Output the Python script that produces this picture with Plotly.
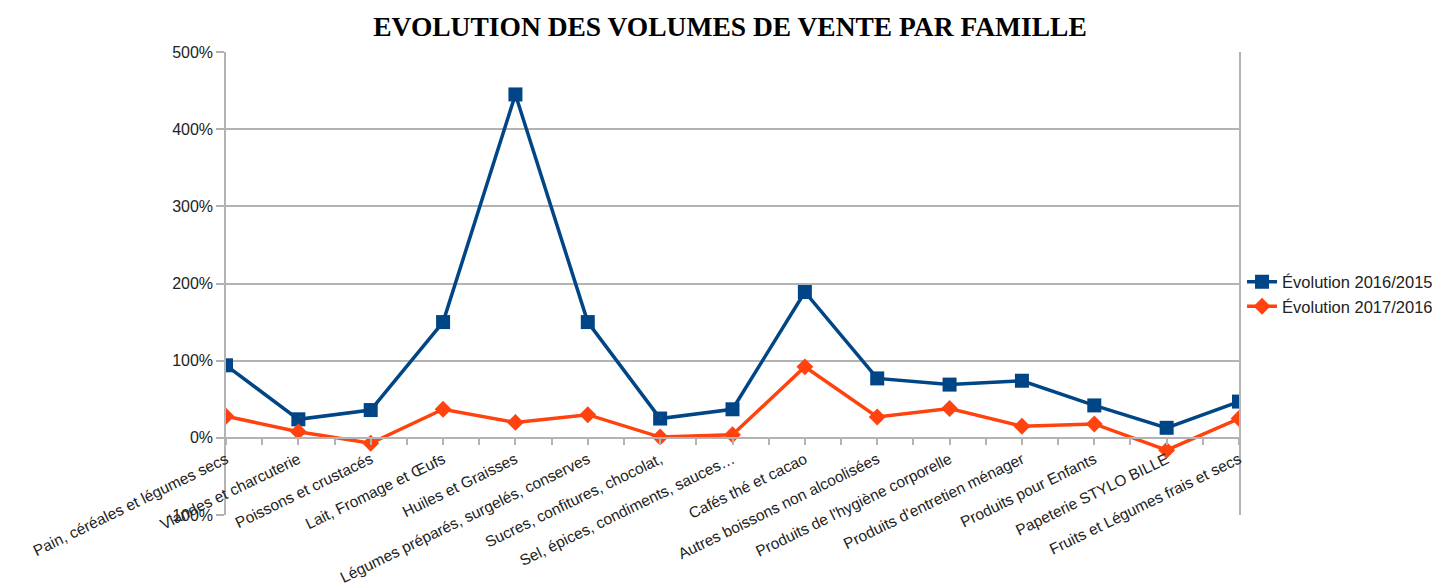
import plotly.graph_objects as go

categories = [
    "Pain, céréales et légumes secs",
    "Viandes et charcuterie",
    "Poissons et crustacés",
    "Lait, Fromage et Œufs",
    "Huiles et Graisses",
    "Légumes préparés, surgelés, conserves",
    "Sucres, confitures, chocolat,",
    "Sel, épices, condiments, sauces…",
    "Cafés thé et cacao",
    "Autres boissons non alcoolisées",
    "Produits de l'hygiène corporelle",
    "Produits d'entretien ménager",
    "Produits pour Enfants",
    "Papeterie STYLO BILLE",
    "Fruits et Légumes frais et secs",
]
evol_2016_2015 = [94, 24, 36, 150, 445, 150, 25, 37, 189, 77, 69, 74, 42, 13, 47]
evol_2017_2016 = [28, 8, -7, 37, 20, 30, 1, 4, 92, 27, 38, 15, 18, -16, 25]
y_ticks = [-100, 0, 100, 200, 300, 400, 500]
y_tick_labels = ["-100%", "0%", "100%", "200%", "300%", "400%", "500%"]

x_pos = list(range(len(categories)))

fig = go.Figure()
fig.add_trace(go.Scatter(
    x=x_pos, y=evol_2016_2015, mode="lines+markers", name="Évolution 2016/2015",
    line=dict(color="#004586", width=3.5),
    marker=dict(symbol="square", size=14, color="#004586"),
))
fig.add_trace(go.Scatter(
    x=x_pos, y=evol_2017_2016, mode="lines+markers", name="Évolution 2017/2016",
    line=dict(color="#ff420e", width=3.5),
    marker=dict(symbol="diamond", size=13, color="#ff420e"),
))

font_family = "Liberation Sans, Arial, sans-serif"

# page body adds an 8px offset; margins compensate for it
fig.update_layout(
    width=1440, height=588,
    paper_bgcolor="white", plot_bgcolor="white",
    margin=dict(l=218, r=209, t=44, b=81, autoexpand=False),
    title=dict(
        text="<b>EVOLUTION DES VOLUMES DE VENTE PAR FAMILLE</b>",
        font=dict(family="Liberation Serif, Times New Roman, serif", size=27.5, color="#000000"),
        x=722 / 1440, xanchor="center", y=1 - 18 / 588, yanchor="middle",
    ),
    showlegend=True,
    legend=dict(
        x=1.003, xanchor="left", y=0.477, yanchor="middle",
        font=dict(family=font_family, size=16.5, color="#222222"),
        bgcolor="rgba(0,0,0,0)", tracegroupgap=0, itemwidth=30,
    ),
    font=dict(family=font_family, size=16, color="#222222"),
)

fig.update_xaxes(
    range=[0, len(categories) - 1],
    tickmode="array", tickvals=x_pos, ticktext=categories,
    tickangle=-26,
    tickfont=dict(family=font_family, size=15.5, color="#222222"),
    showgrid=False, zeroline=False,
    showline=True, linecolor="#b3b3b3", linewidth=1.5,
    ticks="outside", ticklen=6, tickcolor="#b3b3b3", tickwidth=1.5,
    minor=dict(dtick=0.5, tick0=0, ticks="outside", ticklen=6, tickcolor="#b3b3b3", tickwidth=1.5, showgrid=False),
    anchor="free", position=1 / 6, automargin=False,
)
fig.update_yaxes(
    range=[-100, 500],
    tickmode="array", tickvals=y_ticks, ticktext=y_tick_labels,
    tickfont=dict(family=font_family, size=16, color="#222222"),
    showgrid=True, gridcolor="#b3b3b3", gridwidth=1.5,
    zeroline=False,
    showline=True, linecolor="#b3b3b3", linewidth=1.5, mirror=True,
    ticks="outside", ticklen=8, tickcolor="#b3b3b3", tickwidth=1.5,
    automargin=False,
)

fig.write_html("out.html")
